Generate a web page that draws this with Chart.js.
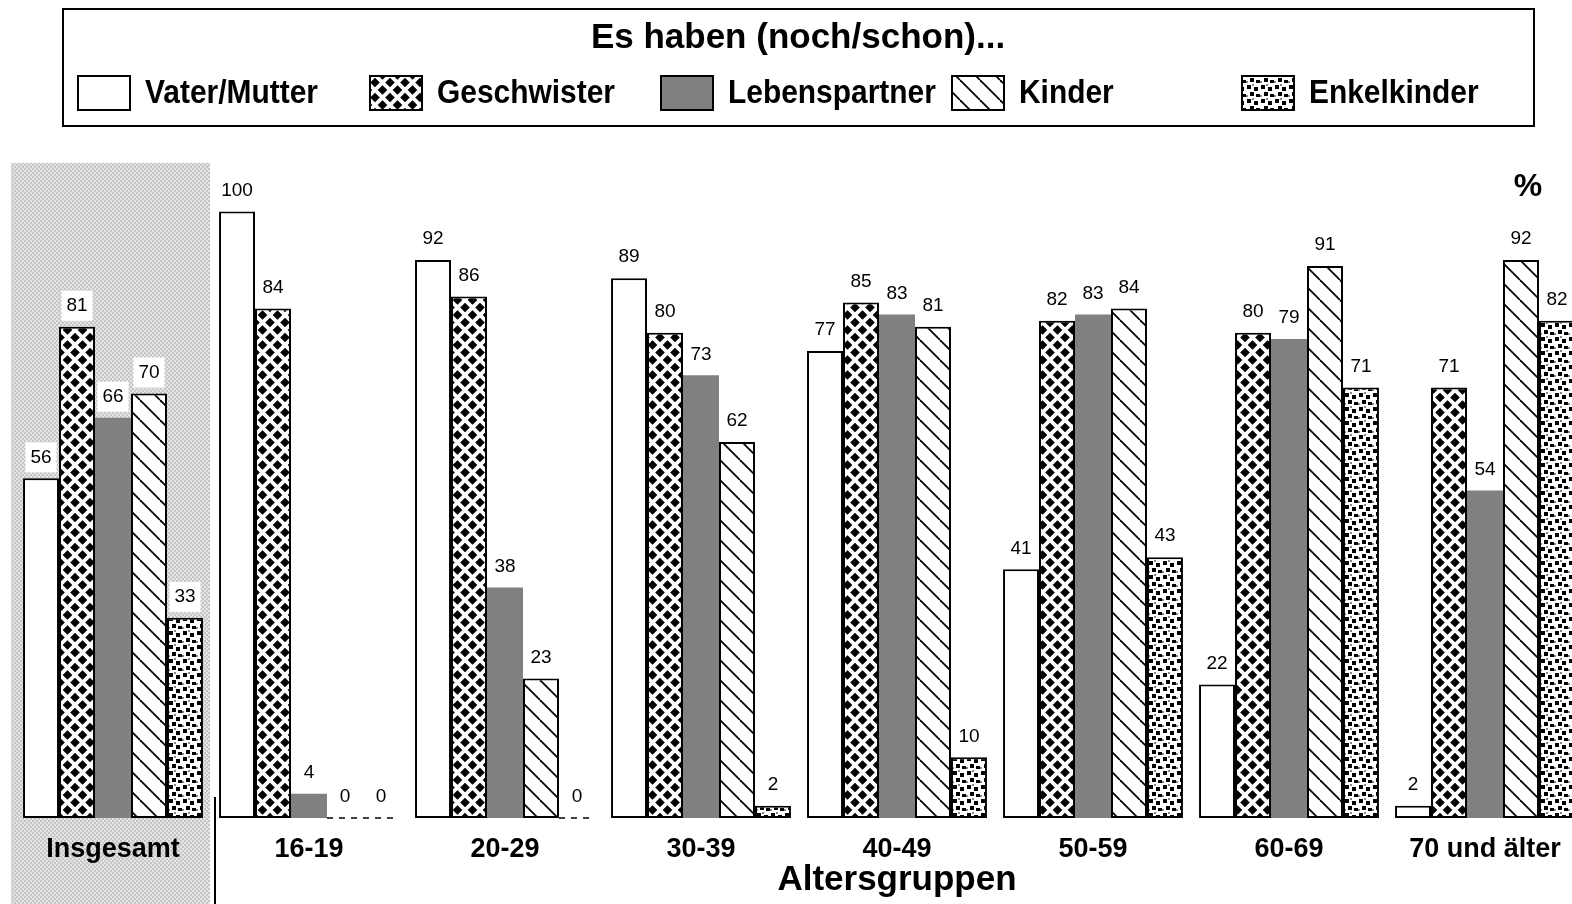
<!DOCTYPE html>
<html>
<head>
<meta charset="utf-8">
<script src="https://cdn.jsdelivr.net/npm/chart.js@4"></script>
<style>
  html, body { margin: 0; padding: 0; background: #fff; overflow: hidden; }
  #wrap { position: absolute; left: 0; top: 0; width: 1600px; height: 904px; }
</style>
</head>
<body>
<div id="wrap"><canvas id="chart" width="1600" height="904"></canvas></div>
<script>
  'use strict';

  // data
  var categories = ['Insgesamt', '16-19', '20-29', '30-39', '40-49', '50-59', '60-69', '70 und älter'];
  var seriesNames = ['Vater/Mutter', 'Geschwister', 'Lebenspartner', 'Kinder', 'Enkelkinder'];
  var vaterMutter = [56, 100, 92, 89, 77, 41, 22, 2];
  var geschwister = [81, 84, 86, 80, 85, 82, 80, 71];
  var lebenspartner = [66, 4, 38, 73, 83, 83, 79, 54];
  var kinder = [70, 0, 23, 62, 81, 84, 91, 92];
  var enkelkinder = [33, 0, 0, 2, 10, 43, 71, 82];

  var FONT = '"Liberation Sans", Arial, sans-serif';
  Chart.defaults.font.family = FONT;

  var canvas = document.getElementById('chart');
  var ctx = canvas.getContext('2d');

  function makePattern(size, draw) {
    var c = document.createElement('canvas');
    c.width = size;
    c.height = size;
    draw(c.getContext('2d'), size);
    return ctx.createPattern(c, 'repeat');
  }

  // Geschwister: black with white cross hatch
  var crossPat = makePattern(15, function (g, s) {
    g.fillStyle = '#000';
    g.fillRect(0, 0, s, s);
    g.strokeStyle = '#fff';
    g.lineWidth = 3.8;
    [-s, 0, s].forEach(function (o) {
      g.beginPath();
      g.moveTo(o, 0); g.lineTo(o + s, s);
      g.moveTo(o + s, 0); g.lineTo(o, s);
      g.stroke();
    });
  });

  // Kinder: white with diagonal lines
  var diagPat = makePattern(20, function (g, s) {
    g.fillStyle = '#fff';
    g.fillRect(0, 0, s, s);
    g.strokeStyle = '#000';
    g.lineWidth = 1.8;
    [-s, 0, s].forEach(function (o) {
      g.beginPath();
      g.moveTo(o, 0); g.lineTo(o + s, s);
      g.stroke();
    });
  });

  // Enkelkinder: white with small black squares
  var dotPat = makePattern(14, function (g, s) {
    g.fillStyle = '#fff';
    g.fillRect(0, 0, s, s);
    g.fillStyle = '#000';
    g.fillRect(1, 1, 4, 4);
    g.fillRect(8, 3, 4, 4);
    g.fillRect(4, 8, 4, 4);
    g.fillRect(10, 10, 4, 3);
    g.fillStyle = '#888';
    g.fillRect(6, 0, 2, 2);
    g.fillRect(0, 11, 2, 2);
  });

  // shaded background behind "Insgesamt"
  var greyPat = makePattern(4, function (g, s) {
    g.fillStyle = '#e4e4e4';
    g.fillRect(0, 0, s, s);
    g.fillStyle = '#c6c6c6';
    g.fillRect(0, 0, 2, 2);
    g.fillRect(2, 2, 2, 2);
  });

  var fills = ['#ffffff', crossPat, '#808080', diagPat, dotPat];
  var values = [vaterMutter, geschwister, lebenspartner, kinder, enkelkinder];

  var datasets = seriesNames.map(function (name, i) {
    return {
      label: name,
      data: values[i],
      backgroundColor: fills[i],
      borderColor: '#000',
      borderWidth: i === 2 ? 0 : 2,
      borderSkipped: false,
      categoryPercentage: 0.918,
      barPercentage: 1.0
    };
  });

  // grey box behind the first group + separator line (drawn before the axis labels)
  var groupShade = {
    id: 'groupShade',
    beforeDraw: function (chart) {
      var c = chart.ctx;
      var x = chart.scales.x;
      var cx = x.getPixelForValue(0);
      c.save();
      c.fillStyle = greyPat;
      c.fillRect(cx - 102, chart.chartArea.top, 199, chart.height - chart.chartArea.top);
      c.strokeStyle = '#000';
      c.lineWidth = 2;
      c.beginPath();
      c.moveTo(cx + 102, 797);
      c.lineTo(cx + 102, chart.height);
      c.stroke();
      c.restore();
    }
  };

  // value labels above the bars
  var valueLabels = {
    id: 'valueLabels',
    afterDatasetsDraw: function (chart) {
      var c = chart.ctx;
      c.save();
      c.font = '19px ' + FONT;
      c.textAlign = 'center';
      c.textBaseline = 'middle';
      chart.data.datasets.forEach(function (ds, i) {
        chart.getDatasetMeta(i).data.forEach(function (bar, j) {
          var v = ds.data[j];
          var txt = String(v);
          var w = c.measureText(txt).width + 10;
          c.fillStyle = '#fff';
          c.fillRect(bar.x - w / 2, bar.y - 36, w, 30);
          c.fillStyle = '#000';
          c.fillText(txt, bar.x, bar.y - 21);
          if (v === 0) {
            c.strokeStyle = '#000';
            c.lineWidth = 1.5;
            c.setLineDash([6, 6]);
            c.beginPath();
            c.moveTo(bar.x - bar.width / 2, bar.y);
            c.lineTo(bar.x + bar.width / 2, bar.y);
            c.stroke();
            c.setLineDash([]);
          }
        });
      });
      c.restore();
    }
  };

  // legend frame, title, % sign and axis title
  var legendBox = {
    id: 'legendBox',
    afterDraw: function (chart) {
      var c = chart.ctx;
      c.save();
      c.strokeStyle = '#000';
      c.lineWidth = 2;
      c.strokeRect(63, 9, 1471, 117);

      c.fillStyle = '#000';
      c.textBaseline = 'middle';
      c.textAlign = 'center';
      c.font = 'bold 35px ' + FONT;
      c.fillText('Es haben (noch/schon)...', 798, 38);

      var boxX = [78, 370, 661, 952, 1242];
      seriesNames.forEach(function (name, i) {
        c.fillStyle = fills[i];
        c.fillRect(boxX[i], 76, 52, 34);
        c.lineWidth = 2;
        c.strokeStyle = '#000';
        c.strokeRect(boxX[i], 76, 52, 34);
        c.save();
        c.translate(boxX[i] + 67, 94);
        c.scale(0.88, 1);
        c.fillStyle = '#000';
        c.textAlign = 'left';
        c.font = 'bold 34px ' + FONT;
        c.fillText(name, 0, 0);
        c.restore();
      });

      c.textAlign = 'center';
      c.fillStyle = '#000';
      c.font = 'bold 32px ' + FONT;
      c.fillText('%', 1528, 187);

      c.font = 'bold 35px ' + FONT;
      c.fillText('Altersgruppen', chart.scales.x.getPixelForValue(4), 880);
      c.restore();
    }
  };

  new Chart(canvas, {
    type: 'bar',
    data: {
      labels: categories,
      datasets: datasets
    },
    options: {
      responsive: false,
      animation: false,
      layout: {
        padding: { left: 15, right: 17, top: 163, bottom: 0 }
      },
      scales: {
        x: {
          grid: { display: false, drawTicks: false },
          border: { display: false },
          ticks: {
            color: '#000',
            padding: 15,
            maxRotation: 0,
            autoSkip: false,
            font: { size: 27, weight: 'bold' }
          },
          afterFit: function (scale) {
            scale.height = 86;
          }
        },
        y: {
          display: false,
          min: 0,
          max: 108
        }
      },
      plugins: {
        legend: { display: false },
        tooltip: { enabled: false }
      }
    },
    plugins: [groupShade, valueLabels, legendBox]
  });
</script>
</body>
</html>
